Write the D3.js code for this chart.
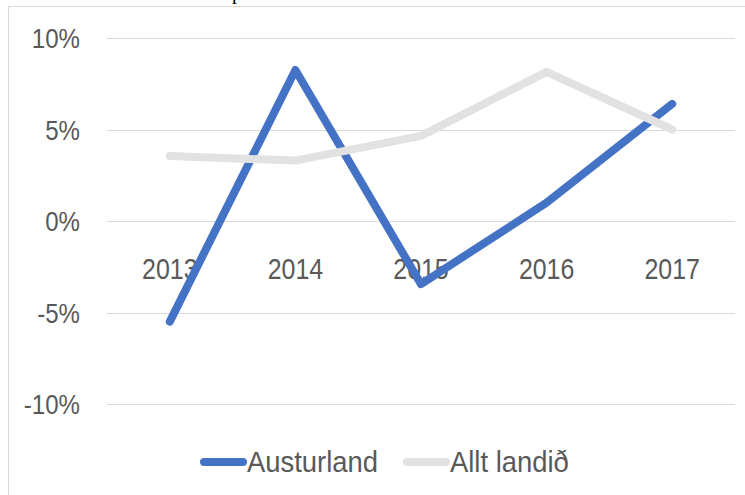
<!DOCTYPE html>
<html>
<head>
<meta charset="utf-8">
<script src="https://cdn.jsdelivr.net/npm/d3@7"></script>
<style>
  body { margin: 0; background: #ffffff; }
  svg { display: block; }
</style>
</head>
<body>
<div id="chart"></div>
<script>
var years = ["2013", "2014", "2015", "2016", "2017"];
var austurland = [-5.5, 8.25, -3.45, 1.0, 6.4];
var alltLandid = [3.55, 3.3, 4.65, 8.15, 5.0];
var yTicks = [-10, -5, 0, 5, 10];
var seriesNames = ["Austurland", "Allt landið"];

var width = 745, height = 495;
var font = "'Liberation Sans', Arial, sans-serif";
var textColor = "#595959";
// the original face is narrower than Liberation Sans, squeeze it a bit
var squeezeDigits = 0.86, squeezeWords = 0.945;

var svg = d3.select("#chart")
    .append("svg")
        .attr("width", width)
        .attr("height", height);

// fragment of the heading above the chart frame
svg.append("text")
    .attr("x", 232)
    .attr("y", -1)
    .attr("font-family", "'Liberation Serif', serif")
    .attr("font-size", "20px")
    .attr("fill", "#000")
    .text("p");

// chart frame
svg.append("path")
    .attr("d", "M8.5," + height + "V6.5H" + width)
    .attr("fill", "none")
    .attr("stroke", "#d9d9d9")
    .attr("stroke-width", 1);

var x = d3.scaleBand().domain(years).range([107, 735]).padding(0);
var y = d3.scaleLinear().domain([-10, 10]).range([404, 38]);

// gridlines
svg.selectAll("line.grid")
    .data(yTicks)
    .enter()
    .append("line")
    .attr("class", "grid")
    .attr("x1", 107)
    .attr("x2", 735)
    .attr("y1", function(d) { return Math.round(y(d)) + 0.5; })
    .attr("y2", function(d) { return Math.round(y(d)) + 0.5; })
    .attr("stroke", "#d9d9d9")
    .attr("stroke-width", 1);

// y labels
svg.selectAll("text.ylab")
    .data(yTicks)
    .enter()
    .append("text")
    .attr("class", "ylab")
    .attr("transform", function(d) {
        return "translate(80," + y(d) + ") scale(" + squeezeDigits + ",1)";
    })
    .attr("dy", "0.36em")
    .attr("text-anchor", "end")
    .attr("font-family", font)
    .attr("font-size", "28px")
    .attr("fill", textColor)
    .text(function(d) { return d + "%"; });

// year labels sit just under the zero line
svg.selectAll("text.xlab")
    .data(years)
    .enter()
    .append("text")
    .attr("class", "xlab")
    .attr("transform", function(d) {
        return "translate(" + (x(d) + x.bandwidth() / 2) + ",279) scale(" + squeezeDigits + ",1)";
    })
    .attr("text-anchor", "middle")
    .attr("font-family", font)
    .attr("font-size", "29px")
    .attr("fill", textColor)
    .text(function(d) { return d; });

var line = d3.line()
    .x(function(d, i) { return x(years[i]) + x.bandwidth() / 2; })
    .y(function(d) { return y(d); });

var series = [
    { name: seriesNames[0], values: austurland, color: "#4472c4" },
    { name: seriesNames[1], values: alltLandid, color: "#e2e2e2" }
];

svg.selectAll("path.series")
    .data(series)
    .enter()
    .append("path")
    .attr("class", "series")
    .attr("d", function(d) { return line(d.values); })
    .attr("fill", "none")
    .attr("stroke", function(d) { return d.color; })
    .attr("stroke-width", 8)
    .attr("stroke-linejoin", "round")
    .attr("stroke-linecap", "round");

// legend
var legendX = [200, 403];
var legend = svg.selectAll("g.legend")
    .data(series)
    .enter()
    .append("g")
    .attr("class", "legend")
    .attr("transform", function(d, i) { return "translate(" + legendX[i] + ",462)"; });

legend.append("line")
    .attr("x1", 4)
    .attr("x2", 43)
    .attr("y1", 0)
    .attr("y2", 0)
    .attr("stroke", function(d) { return d.color; })
    .attr("stroke-width", 8)
    .attr("stroke-linecap", "round");

legend.append("text")
    .attr("transform", "translate(47,0) scale(" + squeezeWords + ",1)")
    .attr("dy", "0.36em")
    .attr("font-family", font)
    .attr("font-size", "29px")
    .attr("fill", textColor)
    .text(function(d) { return d.name; });
</script>
</body>
</html>
